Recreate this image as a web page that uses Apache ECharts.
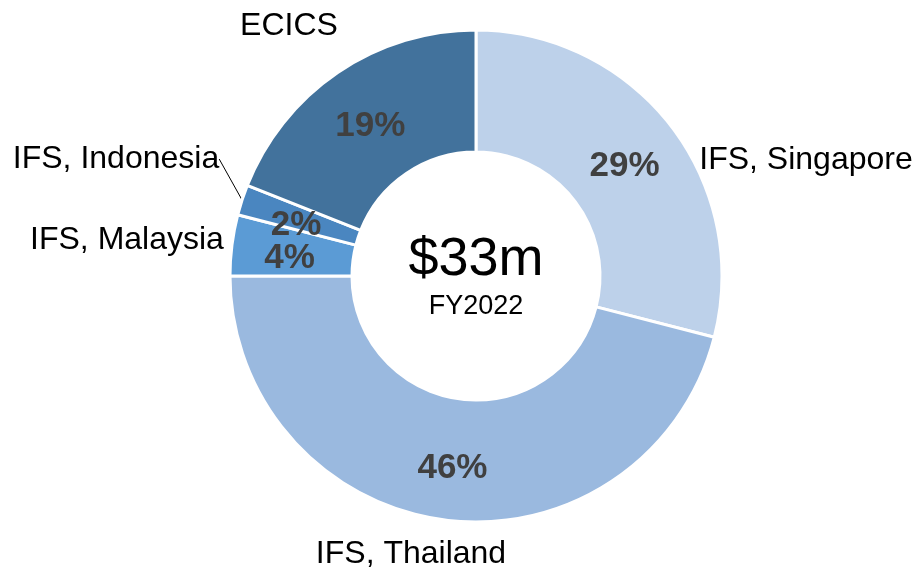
<!DOCTYPE html>
<html>
<head>
<meta charset="utf-8">
<title>FY2022 revenue split</title>
<script src="https://cdn.jsdelivr.net/npm/echarts@6/dist/echarts.min.js"></script>
<style>
  html, body { margin: 0; padding: 0; background: #fff; }
  #chart { width: 921px; height: 573px; }
</style>
</head>
<body>
<div id="chart"></div>
<script>
  // 数据
  const names = ['IFS, Singapore', 'IFS, Thailand', 'IFS, Malaysia', 'IFS, Indonesia', 'ECICS']
  const shares = [29, 46, 4, 2, 19]
  const colors = ['#bdd1ea', '#9ab9df', '#5b9bd5', '#4a86c0', '#42729c']
  const totalText = '$33m'
  const yearText = 'FY2022'

  // 外部名称标签的位置
  const namePos = [[806, 160], [411, 554], [127, 240], [116, 159], [289, 26]]

  const chart = echarts.init(document.getElementById('chart'))
  const center = [476, 276]
  const radius = [124, 246]
  const font = '"Liberation Sans", Arial, sans-serif'

  // 扇区中点 (小扇区的百分比标签会被自动隐藏, 手动放置)
  const total = shares.reduce((a, b) => a + b, 0)
  function midPoint(idx) {
    let before = 0
    for (let i = 0; i < idx; i++) before += shares[i]
    const ang = (90 - 360 * (before + shares[idx] / 2) / total) * Math.PI / 180
    const r = (radius[0] + radius[1]) / 2
    return [center[0] + r * Math.cos(ang), center[1] - r * Math.sin(ang)]
  }
  const smallShare = 3

  const option = {
    animation: false,
    color: colors,
    graphic: [
      {
        type: 'text',
        style: {
          x: center[0], y: 260, text: totalText, fill: '#000',
          fontFamily: font, fontSize: 54, align: 'center', verticalAlign: 'middle'
        }
      },
      {
        type: 'text',
        style: {
          x: center[0], y: 307, text: yearText, fill: '#000',
          fontFamily: font, fontSize: 27, align: 'center', verticalAlign: 'middle'
        }
      }
    ],
    series: [
      {
        // 百分比
        type: 'pie',
        center: center,
        radius: radius,
        startAngle: 90,
        clockwise: true,
        silent: true,
        avoidLabelOverlap: false,
        itemStyle: { borderColor: '#fff', borderWidth: 3 },
        label: {
          show: true,
          position: 'inside',
          formatter: p => p.value + '%',
          color: '#404040',
          fontFamily: font,
          fontWeight: 'bold',
          fontSize: 35
        },
        labelLine: { show: false },
        labelLayout: p => {
          if (shares[p.dataIndex] < smallShare) {
            const m = midPoint(p.dataIndex)
            return { x: m[0] - 4, y: m[1] + 7, align: 'center', verticalAlign: 'middle' }
          }
          return { dy: 6 }
        },
        data: names.map((n, i) => ({
          name: n,
          value: shares[i],
          label: shares[i] < smallShare ? { position: 'outside' } : undefined
        }))
      },
      {
        // 名称
        type: 'pie',
        center: center,
        radius: radius,
        startAngle: 90,
        clockwise: true,
        silent: true,
        avoidLabelOverlap: false,
        itemStyle: { color: 'rgba(0,0,0,0)', borderWidth: 0 },
        label: {
          show: true,
          position: 'outside',
          formatter: p => p.name,
          color: '#000',
          fontFamily: font,
          fontSize: 32,
          overflow: 'none',
          bleedMargin: -600
        },
        labelLine: { show: false, length2: 0, lineStyle: { color: '#000', width: 1 } },
        labelLayout: p => ({
          x: namePos[p.dataIndex][0],
          y: namePos[p.dataIndex][1],
          align: 'center',
          verticalAlign: 'middle'
        }),
        data: names.map((n, i) => ({
          name: n,
          value: shares[i],
          labelLine: { show: n === 'IFS, Indonesia' }
        }))
      }
    ]
  }
  chart.setOption(option)
</script>
</body>
</html>
